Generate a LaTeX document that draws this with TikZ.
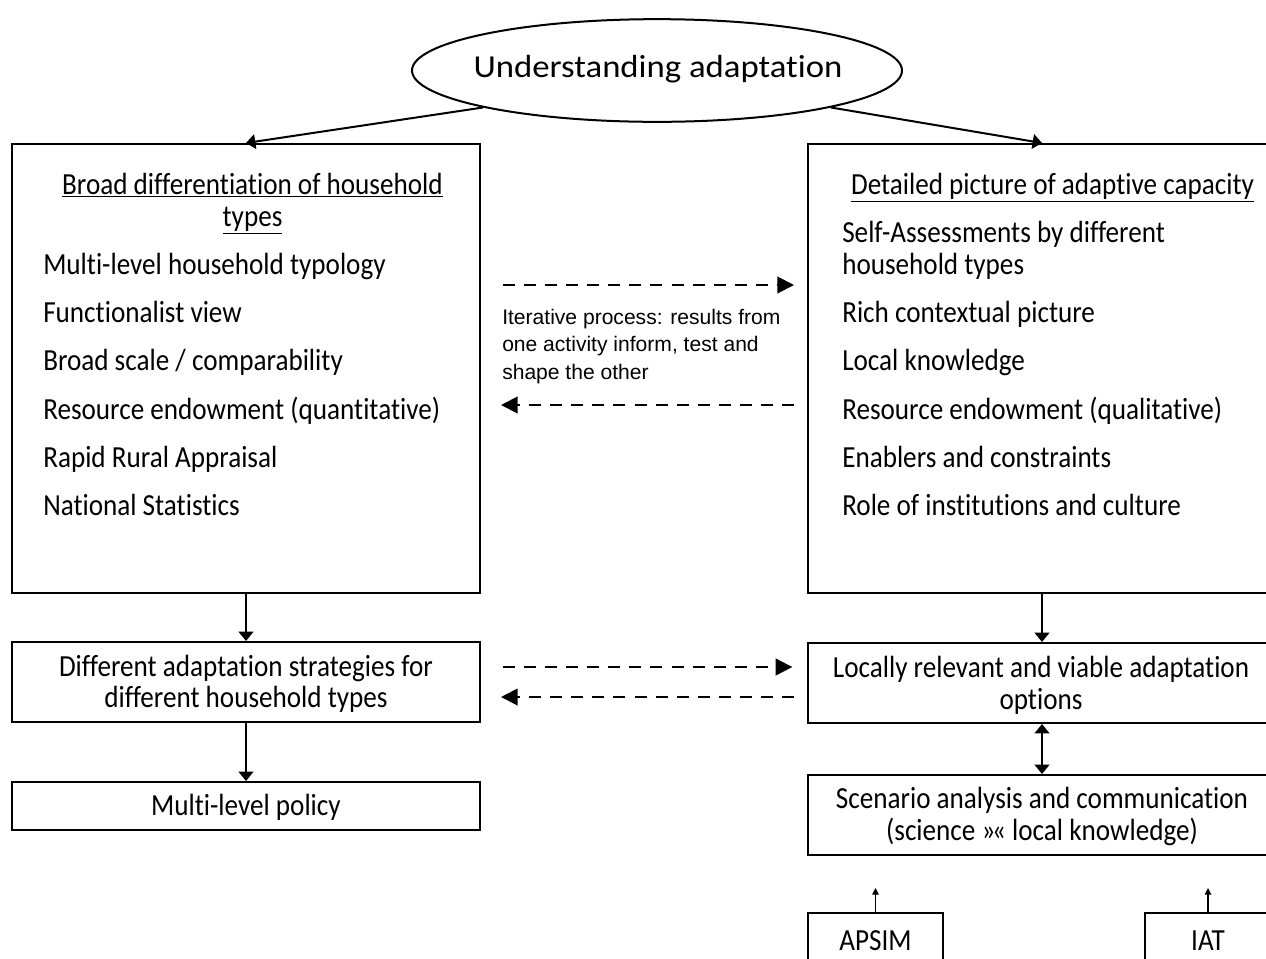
\documentclass[tikz,border=0pt]{standalone}
\usepackage{fontspec}
\setmainfont{Carlito}[FakeStretch=0.885,Ligatures={NoCommon}]
\newfontfamily\titlefont{Carlito}[FakeStretch=1.085,Ligatures={NoCommon}]
\newfontfamily\midfont{Liberation Sans}
\usetikzlibrary{arrows.meta,fit,shapes.geometric}
\begin{document}
\begin{tikzpicture}[x=0.75pt,y=-0.75pt,
  box/.style={draw, line width=1.5pt, inner sep=0pt},
  body/.style={font=\fontsize{23}{23.6}\selectfont, inner sep=0pt},
  ttl/.style={font=\titlefont\fontsize{24}{28}\selectfont, inner sep=0pt},
  mid/.style={font=\midfont\fontsize{15.8}{20}\selectfont, inner sep=0pt},
  solidarrow/.style={line width=1.5pt, -{Triangle[length=7pt,width=11pt]}},
  dblarrow/.style={line width=1.5pt, {Triangle[length=7pt,width=11pt]}-{Triangle[length=7pt,width=11pt]}},
  thinarrow/.style={line width=0.8pt, -{Triangle[length=5pt,width=5pt]}},
  dasharrow/.style={line width=1.5pt, dash pattern=on 9pt off 6.8pt, -{Triangle[length=12.5pt,width=12.5pt]}}]
\useasboundingbox (0,0) rectangle (1266,958);
\clip (0,0) rectangle (1266,958);
\fill[white] (0,0) rectangle (1266,958);

% top ellipse
\node[draw, ellipse, line width=1.5pt, minimum width=367.5pt, minimum height=77pt, inner sep=0pt] (E) at (657,70.5) {};
\node[ttl, anchor=base] (Et) at (658,77) {Understanding adaptation};

% boxes
\node[box, fit={(12,144) (480,593)}] (L1) {};
\node[box, fit={(808,144) (1276,593)}] (R1) {};
\node[box, fit={(12,642) (480,722)}] (L2) {};
\node[box, fit={(12,782) (480,830)}] (L3) {};
\node[box, fit={(808,643) (1276,723)}] (R2) {};
\node[box, fit={(808,775) (1276,855)}] (R3) {};
\node[box, fit={(808,913) (943,985)}] (AP) {};
\node[box, fit={(1145,913) (1271,985)}] (IA) {};

% left big box text
\node[body, anchor=base] (L1h1) at (252.5,194) {\underline{Broad differentiation of household}};
\node[body, anchor=base] (L1h2) at (252.5,226) {\underline{types}};
\node[body, anchor=base west] (L1a) at (43,274) {Multi-level household typology};
\node[body, anchor=base west] (L1b) at (43,322) {Functionalist view};
\node[body, anchor=base west] (L1c) at (43,370.5) {Broad scale / comparability};
\node[body, anchor=base west] (L1d) at (43,419) {Resource endowment (quantitative)};
\node[body, anchor=base west] (L1e) at (43,467) {Rapid Rural Appraisal};
\node[body, anchor=base west] (L1f) at (43,515) {National Statistics};

% right big box text
\node[body, anchor=base] (R1h) at (1052.5,194) {\underline{Detailed picture of adaptive capacity}};
\node[body, anchor=base west] (R1a) at (842,242) {Self-Assessments by different};
\node[body, anchor=base west] (R1a2) at (842,274) {household types};
\node[body, anchor=base west] (R1b) at (842,322) {Rich contextual picture};
\node[body, anchor=base west] (R1c) at (842,370.5) {Local knowledge};
\node[body, anchor=base west] (R1d) at (842,419) {Resource endowment (qualitative)};
\node[body, anchor=base west] (R1e) at (842,467) {Enablers and constraints};
\node[body, anchor=base west] (R1f) at (842,515) {Role of institutions and culture};

% middle text
\node[mid, anchor=base west] (M1) at (502,324) {Iterative process: results from};
\node[mid, anchor=base west] (M2) at (502,351.5) {one activity inform, test and};
\node[mid, anchor=base west] (M3) at (502,379) {shape the other};

% lower boxes text
\node[body, anchor=base] (L2a) at (246,676) {Different adaptation strategies for};
\node[body, anchor=base] (L2b) at (246,707) {different household types};
\node[body, anchor=base] (L3a) at (246,815) {Multi-level policy};
\node[body, anchor=base] (R2a) at (1041,677) {Locally relevant and viable adaptation};
\node[body, anchor=base] (R2b) at (1041,709) {options};
\node[body, anchor=base] (R3a) at (1042,808) {Scenario analysis and communication};
\node[body, anchor=base] (R3b) at (1042,840) {(science »\kern-2.5pt« local knowledge)};
\node[body, anchor=base] (APt) at (875.5,950) {APSIM};
\node[body, anchor=base] (IAt) at (1208,950) {IAT};

% helper levels
\coordinate (y1) at (0,285);
\coordinate (y2) at (0,405);
\coordinate (y3) at (0,667);
\coordinate (y4) at (0,697);

% connectors
\draw[solidarrow] (E.192) -- (L1.north);
\draw[solidarrow] (E.-12) -- (R1.north);
\draw[solidarrow] (L1.south) -- (L2.north);
\draw[solidarrow] (L2.south) -- (L3.north);
\draw[solidarrow] (R1.south) -- (R2.north);
\draw[dblarrow] (R2.south) -- (R3.north);
\draw[thinarrow, shorten >=24pt] (AP.north) -- (AP.north |- R3.south);
\draw[thinarrow, shorten >=24pt] (IA.north) -- (IA.north |- R3.south);

\draw[dasharrow, shorten <=16.5pt, shorten >=9.75pt] (L1.east |- y1) -- (R1.west |- y1);
\draw[dasharrow, shorten <=9.75pt, shorten >=15pt] (R1.west |- y2) -- (L1.east |- y2);
\draw[dasharrow, shorten <=16.5pt, shorten >=11pt] (L2.east |- y3) -- (R2.west |- y3);
\draw[dasharrow, shorten <=9.75pt, shorten >=15pt] (R2.west |- y4) -- (L2.east |- y4);
\end{tikzpicture}
\end{document}
